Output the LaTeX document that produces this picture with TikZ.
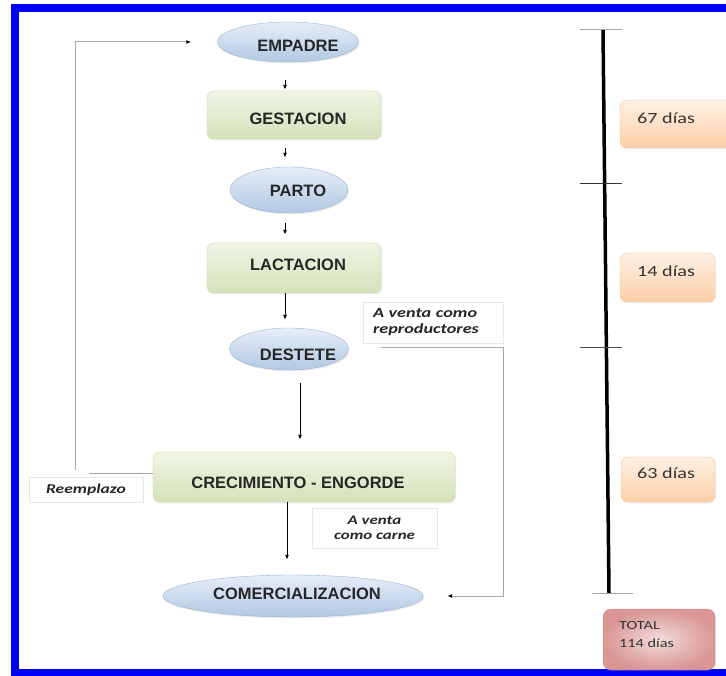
\documentclass[tikz,border=0pt]{standalone}
\usepackage{fontspec}
\setmainfont{Liberation Sans}
\newfontfamily\calfont[FakeStretch=1.3]{Carlito}
\usetikzlibrary{shapes.geometric,arrows.meta,shadows}

\definecolor{frameblue}{HTML}{0000F5}
\definecolor{ovaltop}{HTML}{E6EEF8}
\definecolor{ovalbot}{HTML}{B2C8E3}
\definecolor{ovalline}{HTML}{95B3D7}
\definecolor{stagetop}{HTML}{F0F5E6}
\definecolor{stagebot}{HTML}{D4E2B9}
\definecolor{stageline}{HTML}{C4D79B}
\definecolor{daytop}{HTML}{FEF0E4}
\definecolor{daybot}{HTML}{FBCFA8}
\definecolor{dayline}{HTML}{F9C08F}
\definecolor{totalin}{HTML}{F2DCDB}
\definecolor{totalout}{HTML}{D99694}
\definecolor{totalline}{HTML}{D38C8A}
\definecolor{backline}{HTML}{A6A6A6}
\definecolor{noteline}{HTML}{E8E8E8}

\tikzset{
  oval/.style={ellipse, draw=ovalline, top color=ovaltop, bottom color=ovalbot,
    inner sep=0pt, drop shadow={opacity=0.15,shadow xshift=1pt,shadow yshift=-1.5pt}},
  stage/.style={rectangle, rounded corners=7pt, draw=stageline, top color=stagetop,
    bottom color=stagebot, inner sep=0pt,
    drop shadow={opacity=0.15,shadow xshift=1pt,shadow yshift=-1.5pt}},
  flowtext/.style={font=\fontsize{16.5}{18}\selectfont\bfseries, text=black!85, inner sep=0pt},
  daybox/.style={rectangle, rounded corners=7pt, draw=dayline, top color=daytop,
    bottom color=daybot, inner sep=0pt,
    drop shadow={opacity=0.12,shadow xshift=1pt,shadow yshift=-1.5pt}},
  daytext/.style={font=\calfont\fontsize{15.5}{18}\selectfont, text=black!80, inner sep=0pt, anchor=west},
  notebox/.style={rectangle, draw=noteline, fill=white, inner sep=0pt,
    font=\calfont\fontsize{14}{16}\selectfont\bfseries\itshape, text=black!85},
  flow/.style={draw=black, line width=0.9pt, -{Latex[length=5pt,width=4pt]}},
  back/.style={draw=backline, line width=1pt},
  backarrow/.style={back, -{Latex[length=5pt,width=4pt,black]}},
}

\begin{document}
\begin{tikzpicture}[x=1pt,y=-1pt]
    \useasboundingbox (0,0) rectangle (726,676);
    % frame, open on the right
    \draw[frameblue, line width=8pt] (726,8.5) -- (14.5,8.5) -- (14.5,672.5) -- (726,672.5);

    % flow stages
    \node[oval, minimum width=141pt, minimum height=40pt] (empadre) at (288,42) {};
    \node[stage, minimum width=174pt, minimum height=48pt] (gestacion) at (294,115) {};
    \node[oval, minimum width=118pt, minimum height=46pt] (parto) at (289,190) {};
    \node[stage, minimum width=174pt, minimum height=50pt] (lactacion) at (294,268) {};
    \node[oval, minimum width=119pt, minimum height=42pt] (destete) at (289,349) {};
    \node[stage, minimum width=302pt, minimum height=50pt] (crecimiento) at (304,477) {};
    \node[oval, minimum width=260pt, minimum height=42pt] (comercial) at (293,596) {};

    \node[flowtext] at ([xshift=10pt,yshift=-3.5pt]empadre) {EMPADRE};
    \node[flowtext] at ([xshift=4pt,yshift=-3.5pt]gestacion) {GESTACION};
    \node[flowtext] at ([xshift=9pt,yshift=-1pt]parto) {PARTO};
    \node[flowtext] at ([xshift=4pt,yshift=3.5pt]lactacion) {LACTACION};
    \node[flowtext] at ([xshift=9pt,yshift=-6pt]destete) {DESTETE};
    \node[flowtext] at ([xshift=-6pt,yshift=-5.5pt]crecimiento) {CRECIMIENTO - ENGORDE};
    \node[flowtext] at ([xshift=4pt,yshift=2.5pt]comercial) {COMERCIALIZACION};

    % notes
    \node[notebox, minimum width=140pt, minimum height=41pt, text width=120pt,
          align=left] (reproductores) at (433,322.5) {A venta como\\reproductores};
    \node[notebox, minimum width=125pt, minimum height=40pt, align=center,
          font=\calfont\fontsize{13}{15}\selectfont\bfseries\itshape] (carne) at (374.5,528) {A venta\\como carne};
    \node[notebox, minimum width=114pt, minimum height=25pt,
          font=\calfont\fontsize{13.5}{15}\selectfont\bfseries\itshape] (reemplazo) at (86,489.5) {Reemplazo};

    % connections
    \coordinate (colA) at (285,0);
    \coordinate (colB) at (300,0);
    \coordinate (colC) at (287,0);
    \draw[flow, shorten <=18pt, shorten >=1pt] (empadre.south -| colA) -- (gestacion.north -| colA);
    \draw[flow, shorten <=9pt, shorten >=9pt] (gestacion.south -| colA) -- (parto.north -| colA);
    \draw[flow, shorten <=10pt, shorten >=8pt] (parto.south -| colA) -- (lactacion.north -| colA);
    \draw[flow, shorten >=8pt] (lactacion.south -| colA) -- (destete.north -| colA);
    \draw[flow, shorten <=13pt, shorten >=12pt] (destete.south -| colB) -- (crecimiento.north -| colB);
    \draw[flow, shorten >=15pt] (crecimiento.south -| colC) -- (comercial.north -| colC);

    % replacement loop
    \coordinate (loopA) at (89,473);
    \coordinate (loopB) at (75,470);
    \draw[back] ([yshift=4pt]crecimiento.west) -- (loopA);
    \draw[backarrow, shorten >=26pt] (loopB) |- (empadre.west);

    % sale loop
    \coordinate (saleA) at (503,348);
    \draw[backarrow, shorten <=32pt, shorten >=24pt] (destete.east |- saleA) -- (saleA) |- (comercial.east);

    % time line
    \coordinate (ttop) at (603,30);
    \coordinate (tbot) at (609,593);
    \draw[line width=3.5pt] (ttop) -- (tbot);
    \draw[backline, line width=1pt] (580,30) -- (622,30);
    \draw[black!80, line width=0.8pt] (580,183) -- (622,183);
    \draw[black!70, line width=0.8pt] (580,347) -- (622,347);
    \draw[backline, line width=1pt] (592,593) -- (633,593);

    \node[daybox, minimum width=115pt, minimum height=48pt] (d67) at (677.5,124) {};
    \node[daybox, minimum width=95pt, minimum height=49pt] (d14) at (667.5,277.5) {};
    \node[daybox, minimum width=94pt, minimum height=45pt] (d63) at (668,479.5) {};
    \node[rectangle, rounded corners=8pt, draw=totalline, inner color=totalin,
          outer color=totalout, minimum width=112pt, minimum height=61pt,
          drop shadow={opacity=0.15,shadow xshift=1pt,shadow yshift=-1.5pt}] (total) at (659,639.5) {};

    \node[daytext] at (637,118) {67 días};
    \node[daytext] at (637,271) {14 días};
    \node[daytext] at (637,473) {63 días};
    \node[daytext, align=left, font=\calfont\fontsize{12.5}{18}\selectfont] at (619,634) {TOTAL\\114 días};
\end{tikzpicture}
\end{document}
